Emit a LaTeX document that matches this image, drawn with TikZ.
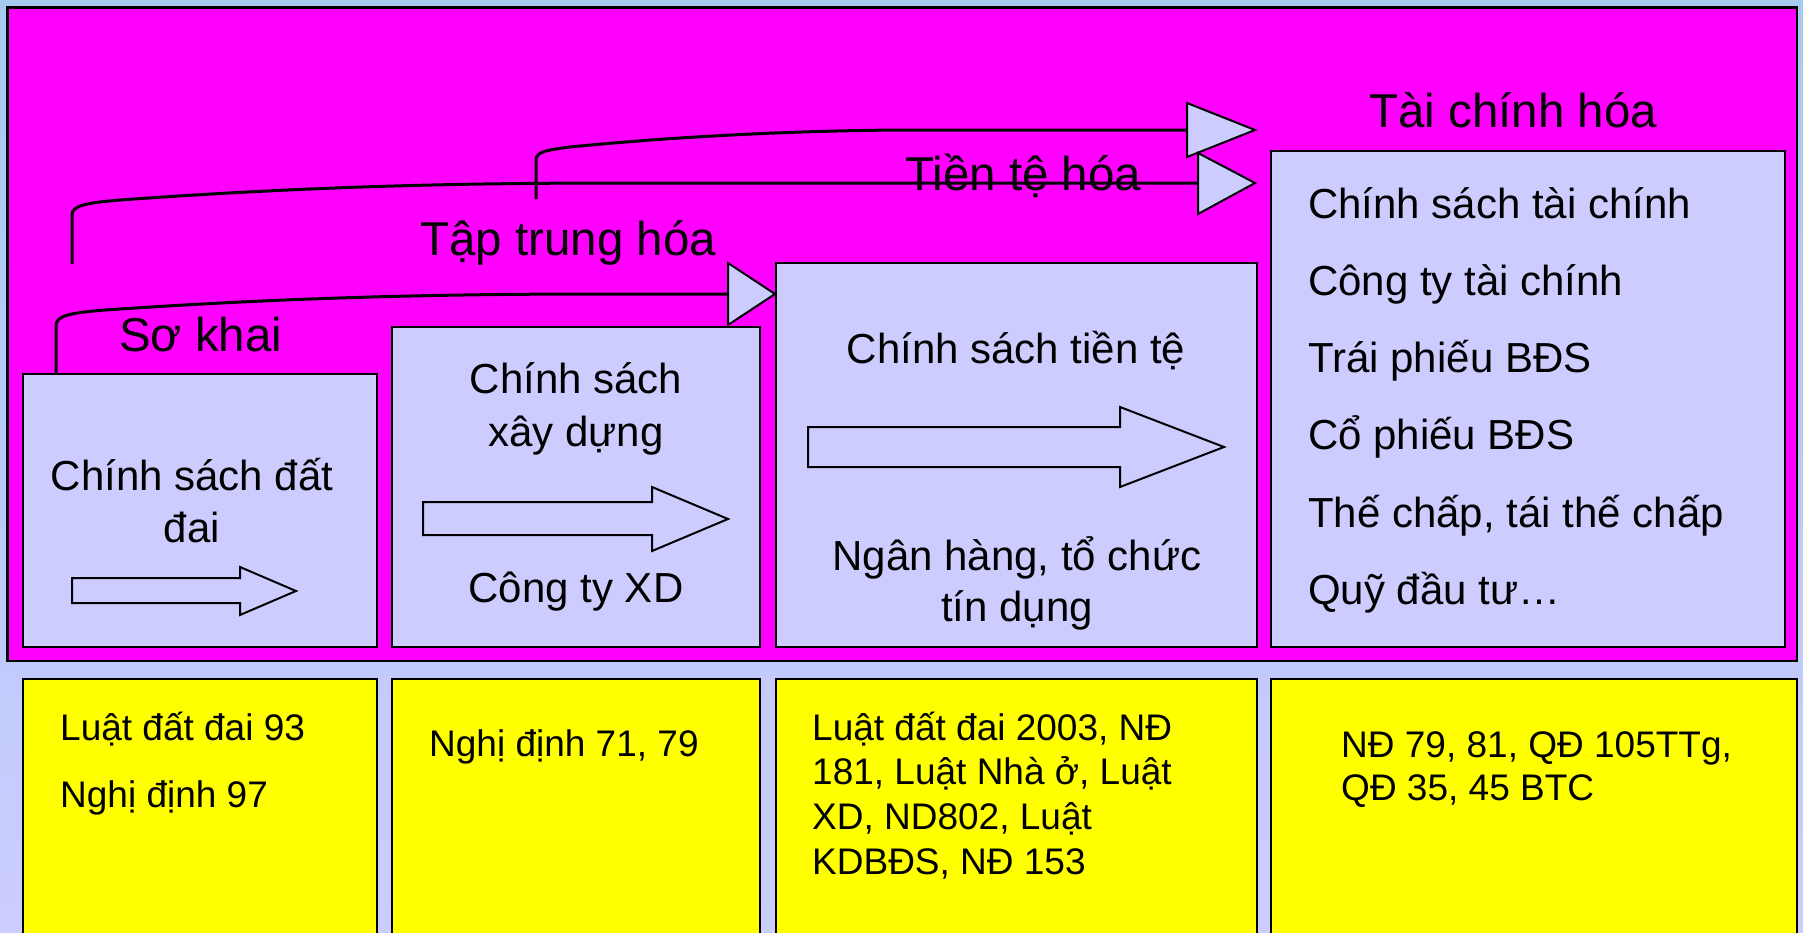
\documentclass[tikz,border=0pt]{standalone}
\usepackage{fontspec}
\setmainfont{Liberation Sans}
\definecolor{bgtop}{HTML}{A6CAF0}
\definecolor{bgbot}{HTML}{CCCCFF}
\definecolor{panelfill}{HTML}{FF00FF}
\definecolor{stagefill}{HTML}{CCCCFF}
\definecolor{lawfill}{HTML}{FFFF00}
\begin{document}
\begin{tikzpicture}[x=1pt,y=-1pt,
  panelbox/.style={draw=black,line width=2.5pt,fill=panelfill,inner sep=0pt,outer sep=0pt,anchor=north west},
  stagebox/.style={draw=black,line width=2.5pt,fill=stagefill,inner sep=0pt,outer sep=0pt,anchor=north west},
  lawbox/.style={draw=black,line width=2.5pt,fill=lawfill,inner sep=0pt,outer sep=0pt,anchor=north west},
  phase/.style={inner sep=0pt,anchor=base west,font=\fontsize{47.5}{57}\selectfont},
  boxtext/.style={inner sep=0pt,anchor=base,font=\fontsize{42}{50}\selectfont},
  listtext/.style={inner sep=0pt,anchor=base west,font=\fontsize{42}{50}\selectfont},
  lawtext/.style={inner sep=0pt,anchor=base west,font=\fontsize{37}{44}\selectfont},
  bentline/.style={draw=black,line width=3pt},
  headtri/.style={draw=black,line width=2pt,fill=stagefill,line join=miter},
  blockarrow/.style={draw=black,line width=2pt,fill=stagefill,line join=miter}]
\useasboundingbox (0,0) rectangle (1803,932);
\begin{scope}
\clip (0,0) rectangle (1803,932);
% page background
\shade[top color=bgtop,bottom color=bgbot] (0,0) rectangle (1803,932);

% magenta panel holding the four stages
\node[panelbox,minimum width=1789.5pt,minimum height=653.5pt] (panel) at (7.5,7.5) {};

% stage boxes
\node[stagebox,minimum width=354pt,minimum height=273pt] (s1) at (23,374) {};
\node[stagebox,minimum width=368pt,minimum height=320pt] (s2) at (392,327) {};
\node[stagebox,minimum width=481pt,minimum height=384pt] (s3) at (776,263) {};
\node[stagebox,minimum width=514pt,minimum height=496pt] (s4) at (1271,151) {};

% legal documents boxes (run off the bottom edge)
\node[lawbox,minimum width=354pt,minimum height=300pt] (l1) at (23,679) {};
\node[lawbox,minimum width=368pt,minimum height=300pt] (l2) at (392,679) {};
\node[lawbox,minimum width=481pt,minimum height=300pt] (l3) at (776,679) {};
\node[lawbox,minimum width=526pt,minimum height=300pt] (l4) at (1271,679) {};

% bent connectors between stages
\coordinate (c1) at ([xshift=33pt]s1.north west);
\draw[bentline] (c1) -- (56,326) .. controls (56,316) and (68,313) .. (105,310)
  .. controls (280,298) and (430,294) .. (600,294) -- (728,294);
\filldraw[headtri] (728,263) -- (775,294) -- (728,325) -- cycle;

\coordinate (c2) at (72,264);
\draw[bentline] (c2) -- (72,215) .. controls (72,206) and (84,203) .. (120,200)
  .. controls (300,187) and (450,183) .. (620,183) -- (1198,183);

\coordinate (c3) at (536,199);
\draw[bentline] (c3) -- (536,160) .. controls (536,152) and (546,150) .. (570,147)
  .. controls (640,140) and (760,131) .. (900,130) -- (1187,130);
\filldraw[headtri] (1187,103) -- (1255,130) -- (1187,157) -- cycle;
\filldraw[headtri] (1198,153) -- (1255,183) -- (1198,214) -- cycle;

% phase labels
\node[phase] (p1) at (119,351) {Sơ khai};
\node[phase] (p2) at (420,255) {Tập trung hóa};
\node[phase] (p3) at (905,190) {Tiền tệ hóa};
\node[phase] (p4) at (1369,127) {Tài chính hóa};

% block arrows inside the stage boxes
\filldraw[blockarrow] (72,578) -- (240,578) -- (240,567) -- (296,591) -- (240,615) -- (240,603) -- (72,603) -- cycle;
\filldraw[blockarrow] (423,502) -- (652,502) -- (652,487) -- (728,519) -- (652,551) -- (652,535) -- (423,535) -- cycle;
\filldraw[blockarrow] (808,427) -- (1120,427) -- (1120,407) -- (1224,447) -- (1120,487) -- (1120,467) -- (808,467) -- cycle;

% stage 1 text
\node[boxtext] (t11) at (192,490) {Chính sách đất};
\node[boxtext] (t12) at (192,542) {đai};
% stage 2 text
\node[boxtext] (t21) at (576,393) {Chính sách};
\node[boxtext] (t22) at (576,446) {xây dựng};
\node[boxtext] (t23) at (576,602) {Công ty XD};
% stage 3 text
\node[boxtext] (t31) at (1016,363) {Chính sách tiền tệ};
\node[boxtext] (t32) at (1017,570) {Ngân hàng, tổ chức};
\node[boxtext] (t33) at (1017,621) {tín dụng};
% stage 4 list
\node[listtext] (t41) at (1308,218) {Chính sách tài chính};
\node[listtext] (t42) at (1308,295) {Công ty tài chính};
\node[listtext] (t43) at (1308,372) {Trái phiếu BĐS};
\node[listtext] (t44) at (1308,449) {Cổ phiếu BĐS};
\node[listtext] (t45) at (1308,527) {Thế chấp, tái thế chấp};
\node[listtext] (t46) at (1308,604) {Quỹ đầu tư…};

% legal documents
\node[lawtext] (d11) at (60,740) {Luật đất đai 93};
\node[lawtext] (d12) at (60,807) {Nghị định 97};
\node[lawtext] (d21) at (429,756) {Nghị định 71, 79};
\node[lawtext] (d31) at (812,740) {Luật đất đai 2003, NĐ};
\node[lawtext] (d32) at (812,784) {181, Luật Nhà ở, Luật};
\node[lawtext] (d33) at (812,829) {XD, ND802, Luật};
\node[lawtext] (d34) at (812,874) {KDBĐS, NĐ 153};
\node[lawtext] (d41) at (1341,757) {NĐ 79, 81, QĐ 105TTg,};
\node[lawtext] (d42) at (1341,800) {QĐ 35, 45 BTC};
\end{scope}
\end{tikzpicture}
\end{document}
